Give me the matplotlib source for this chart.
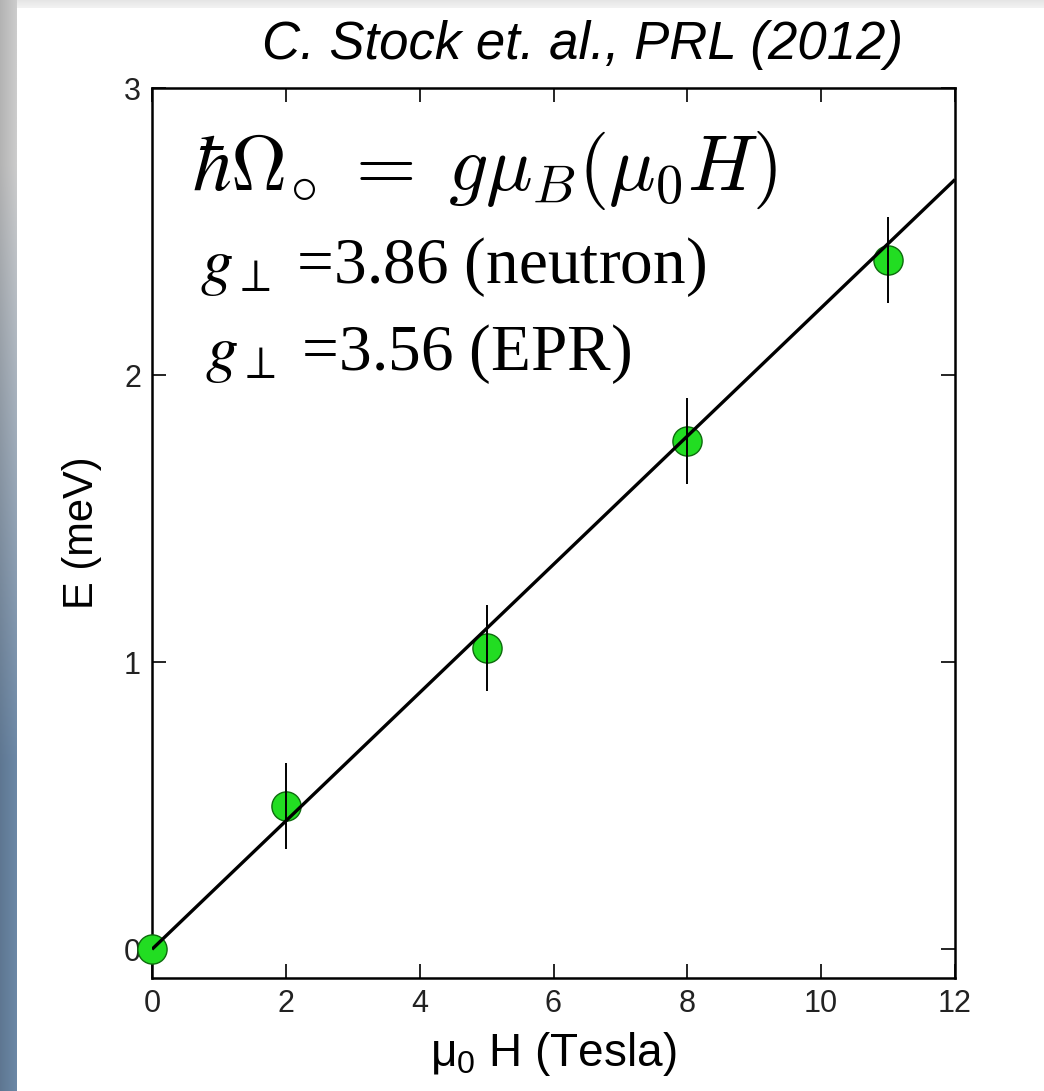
import numpy as np
import matplotlib
matplotlib.use("Agg")
import matplotlib.pyplot as plt

# Zeeman splitting of the crystal-field level vs applied field
field = [0, 2, 5, 8, 11]              # mu0 H (T)
energy = [0.0, 0.50, 1.05, 1.77, 2.40]  # E (meV)
energy_err = [0.0, 0.15, 0.15, 0.15, 0.15]

g_neutron = 3.86
g_epr = 3.56
mu_b = 0.0578838  # meV / T

x_ticks = [0, 2, 4, 6, 8, 10, 12]
y_ticks = [0, 1, 2, 3]

plt.rcParams['font.family'] = ['Liberation Sans', 'DejaVu Sans']

fig = plt.figure(figsize=(10.44, 10.91), dpi=100)
fig.patch.set_facecolor('white')

# slide frame: grey/blue strip on the left, light strip along the top
W, H = 1044, 1091
left_w, top_h = 17, 8
rows = np.linspace(0, 1, 256)[:, None]
cols = np.linspace(0, 1, 16)[None, :]
top_c = np.array([0.80, 0.80, 0.80])
bot_c = np.array([0.42, 0.53, 0.65])
t = np.clip((rows - 0.15) / 0.55, 0, 1)[..., None]
grad = top_c * (1 - t) + bot_c * t
grad = grad * (0.88 + 0.12 * cols[..., None])
ax_strip = fig.add_axes([0, 0, left_w / W, 1])
ax_strip.imshow(grad, aspect='auto', extent=[0, 1, 0, 1])
ax_strip.set_axis_off()
top_grad = np.linspace(0.90, 0.95, 16)[:, None, None] * np.ones((16, 64, 3))
ax_top = fig.add_axes([left_w / W, 1 - top_h / H, 1 - left_w / W, top_h / H])
ax_top.imshow(top_grad, aspect='auto', extent=[0, 1, 0, 1])
ax_top.set_axis_off()

ax = fig.add_axes([152 / W, 1 - 978 / H, (955 - 152) / W, (978 - 88) / H])

xs = np.array([0, 12])
ax.plot(xs, g_neutron * mu_b * xs, color='black', lw=2.4, zorder=4,
        solid_capstyle='butt')
ax.plot(field, energy, 'o', ms=21, mfc='#22dd22', mec='#0d6b0d', mew=1.0,
        zorder=3, clip_on=False)
ax.errorbar(field, energy, yerr=energy_err, fmt='none', ecolor='black',
            elinewidth=1.4, capsize=0, zorder=5)

ax.set_xlim(0, 12)
ax.set_ylim(-0.1, 3)
ax.set_xticks(x_ticks)
ax.set_yticks(y_ticks)
ax.tick_params(direction='in', length=10, width=1.2, top=True, right=True,
               labelsize=22, labelcolor='#222222', pad=8)
for sp in ax.spines.values():
    sp.set_linewidth(1.8)

ax.set_xlabel(r'$\mathregular{\mu_0}$ H (Tesla)', fontsize=33, labelpad=8)
ax.set_ylabel('E (meV)', fontsize=30, labelpad=16)

fig.text(583 / W, 1 - 45 / H, 'C. Stock et. al., PRL (2012)', fontsize=38,
         style='italic', ha='center', va='center')

ax.text(0.05, 0.885, r'$\hbar\Omega_{\circ}\;=\;g\mu_B(\mu_0 H)$',
        transform=ax.transAxes, fontsize=56, math_fontfamily='cm',
        va='baseline')
ax.text(0.06, 0.781, r'$g_{\perp}$' + f' ={g_neutron:.2f} (neutron)',
        transform=ax.transAxes, fontsize=47, family='Liberation Serif',
        math_fontfamily='stix', va='baseline')
ax.text(0.066, 0.683, r'$g_{\perp}$' + f' ={g_epr:.2f} (EPR)',
        transform=ax.transAxes, fontsize=47, family='Liberation Serif',
        math_fontfamily='stix', va='baseline')

fig.savefig('out.png', dpi=100)
